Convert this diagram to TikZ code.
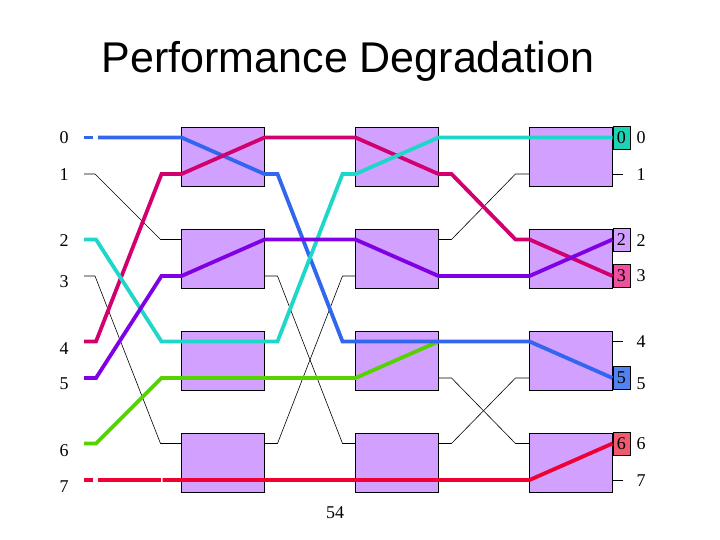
\documentclass[tikz,border=0pt]{standalone}
\usepackage{fontspec}
\setmainfont{Liberation Serif}
\newfontfamily\titlefont{Liberation Sans}
\usetikzlibrary{positioning}

\definecolor{swfill}{RGB}{210,160,255}
\definecolor{lblue}{RGB}{51,102,238}
\definecolor{lmagenta}{RGB}{210,0,110}
\definecolor{lcyan}{RGB}{30,215,200}
\definecolor{lpurple}{RGB}{128,0,230}
\definecolor{lgreen}{RGB}{85,210,0}
\definecolor{lred}{RGB}{240,0,50}
\definecolor{tagteal}{RGB}{30,210,180}
\definecolor{tagpink}{RGB}{240,80,160}
\definecolor{tagblue}{RGB}{80,130,240}
\definecolor{tagred}{RGB}{240,90,110}

\begin{document}
\begin{tikzpicture}[
            x=1pt, y=-1pt,
            block/.style={rectangle, draw, fill=swfill, line width=0.8pt, minimum height=59pt, minimum width=83pt, inner sep=0pt, outer sep=0pt},
            tag/.style={rectangle, draw, line width=0.8pt, minimum height=23pt, minimum width=17pt, inner sep=0pt, anchor=west, font=\fontsize{18}{18}\selectfont},
            num/.style={font=\fontsize{18}{18}\selectfont, inner sep=0pt},
            route/.style={line width=3.8pt},
            idle/.style={line width=0.6pt},
            node distance=43pt and 91pt
        ]
        \useasboundingbox (0,0) rectangle (720,540);

        \node[font=\titlefont\fontsize{43}{43}\selectfont, anchor=base] (title) at (348,73) {Performance Degradation};

        % switch columns
        \node[block] (sw10) at (223,157) {};
        \node[block, right=of sw10] (sw20) {};
        \node[block, right=of sw20] (sw30) {};
        \foreach \c in {1,2,3}
            \foreach \q/\r in {0/1,1/2,2/3}
                \node[block, below=of sw\c\q] (sw\c\r) {};

        % wire ends on each switch
        \foreach \c in {1,2,3}
            \foreach \r/\wa/\wb in {0/0/1,1/2/3,2/4/5,3/6/7} {
                \coordinate (in\c\wa) at ([yshift=19.5pt]sw\c\r.west);
                \coordinate (in\c\wb) at ([yshift=-17pt]sw\c\r.west);
                \coordinate (out\c\wa) at ([yshift=19.5pt]sw\c\r.east);
                \coordinate (out\c\wb) at ([yshift=-17pt]sw\c\r.east);
            }
        \foreach \w in {0,...,7}
            \coordinate (src\w) at ([xshift=-97.5pt]in1\w);

        \foreach \w/\y in {0/138,1/175,2/241,3/282,4/349,5/384,6/451,7/487}
            \node[num] (lin\w) at (64,\y) {\w};
        \foreach \w/\y in {0/138,1/175,2/241,3/276,4/342,5/384,6/444,7/481}
            \node[num] (lout\w) at (641,\y) {\w};
        \node[num] (page) at (335,513) {54};

        % unused links
        \draw[idle] (src1) -- ++(11,0) -- ([xshift=-21pt]in12) -- (in12);
        \draw[idle] (src3) -- ++(11,0) -- ([xshift=-21pt]in16) -- (in16);
        \foreach \a/\b in {3/6,6/3}
            \draw[idle] (out1\a) -- ++(13,0) -- ([xshift=-13pt]in2\b) -- (in2\b);
        \foreach \a/\b in {2/1,5/6,6/5}
            \draw[idle] (out2\a) -- ++(13,0) -- ([xshift=-14pt]in3\b) -- (in3\b);
        \foreach \w in {1,4,7}
            \draw[idle] (out3\w) -- ++(10,0);

        % routed messages
        \draw[route, lgreen] (src6) -- ++(12,0) -- ([xshift=-20pt]in15) -- (in15) -- (out15) -- (in25) -- (out24);
        \draw[route, lblue] (src0) -- ++(9,0);
        \draw[route, lblue] ([xshift=14pt]src0) -- (in10) -- (out11) -- ++(13,0) -- ([xshift=-13pt]in24) -- (in24) -- (out24) -- (in34) -- (out35);
        \draw[route, lmagenta] (src4) -- ++(12,0) -- ([xshift=-20pt]in11) -- (in11) -- (out10) -- (in20) -- (out21) -- ++(13,0) -- ([xshift=-14pt]in32) -- (in32) -- (out33);
        \draw[route, lcyan] (src2) -- ++(12,0) -- ([xshift=-20pt]in14) -- (in14) -- (out14) -- ++(13,0) -- ([xshift=-13pt]in21) -- (in21) -- (out20) -- (in30) -- (out30);
        \draw[route, lpurple] (src5) -- ++(12,0) -- ([xshift=-20pt]in13) -- (in13) -- (out12) -- (in22) -- (out23) -- (in33) -- (out32);
        \draw[route, lred] (src7) -- ++(9,0);
        \draw[route, lred] ([xshift=14pt]src7) -- ([xshift=-21pt]in17);
        \draw[route, lred] ([xshift=-19pt]in17) -- (in17) -- (out17) -- (in27) -- (out27) -- (in37) -- (out36);

        % delivered outputs
        \node[tag, fill=tagteal] (t0) at (out30) {0};
        \node[tag, fill=swfill] (t2) at (out32) {2};
        \node[tag, fill=tagpink] (t3) at (out33) {3};
        \node[tag, fill=tagblue] (t5) at (out35) {5};
        \node[tag, fill=tagred] (t6) at (out36) {6};

    \end{tikzpicture}
\end{document}
